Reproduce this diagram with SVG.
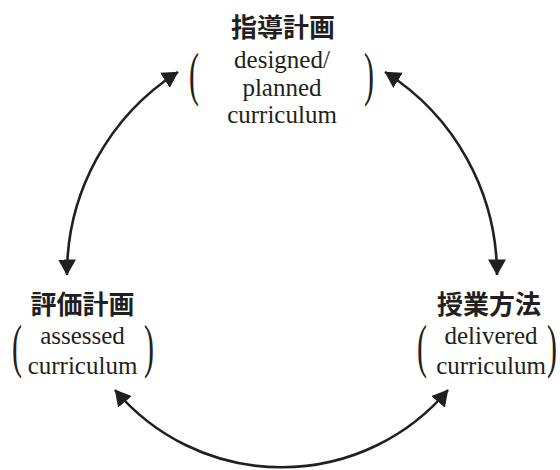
<svg xmlns="http://www.w3.org/2000/svg" width="560" height="470" viewBox="0 0 560 470">
<defs>
<marker id="ah" markerUnits="userSpaceOnUse" markerWidth="17" markerHeight="18" refX="15.5" refY="9" orient="auto-start-reverse" viewBox="0 0 17 18">
<path d="M0,0 L16,9 L0,18 z" fill="#231f20"/>
</marker>
<style>
.title{font-family:"Noto Sans CJK JP","Noto Sans CJK SC",sans-serif;font-weight:bold;font-size:26px;fill:#231f20;text-anchor:middle}
.en{font-family:"Liberation Serif","Times New Roman","DejaVu Serif",serif;font-size:25px;fill:#231f20;text-anchor:middle}
.par{font-family:"Liberation Serif","Times New Roman","DejaVu Serif",serif;font-size:30px;fill:#231f20;text-anchor:middle}
.arc{fill:none;stroke:#231f20;stroke-width:2.6;marker-start:url(#ah);marker-end:url(#ah)}
</style>
</defs>
<rect width="560" height="470" fill="#ffffff"/>
<g id="connectors">
<path class="arc" d="M178,72 A240,240 0 0 0 67,275"/>
<path class="arc" d="M385,72 A240,240 0 0 1 497,275"/>
<path class="arc" d="M115,390 A218,218 0 0 0 448,390"/>
</g>
<g id="node-top">
<text class="title" x="283" y="36.5">指導計画</text>
<text class="par" transform="translate(194,93.6) scale(1,2)">(</text>
<text class="en" x="282" y="68">designed/</text>
<text class="en" x="282" y="95.5">planned</text>
<text class="en" x="282" y="123">curriculum</text>
<text class="par" transform="translate(369,93.6) scale(1,2)">)</text>
</g>
<g id="node-left">
<text class="title" x="82.5" y="314">評価計画</text>
<text class="par" transform="translate(17,365.6) scale(1,2)">(</text>
<text class="en" x="82.5" y="344">assessed</text>
<text class="en" x="82.5" y="374">curriculum</text>
<text class="par" transform="translate(149,365.6) scale(1,2)">)</text>
</g>
<g id="node-right">
<text class="title" x="489" y="314">授業方法</text>
<text class="par" transform="translate(422,365.6) scale(1,2)">(</text>
<text class="en" x="491" y="344">delivered</text>
<text class="en" x="491" y="374">curriculum</text>
<text class="par" transform="translate(552,365.6) scale(1,2)">)</text>
</g>
</svg>
